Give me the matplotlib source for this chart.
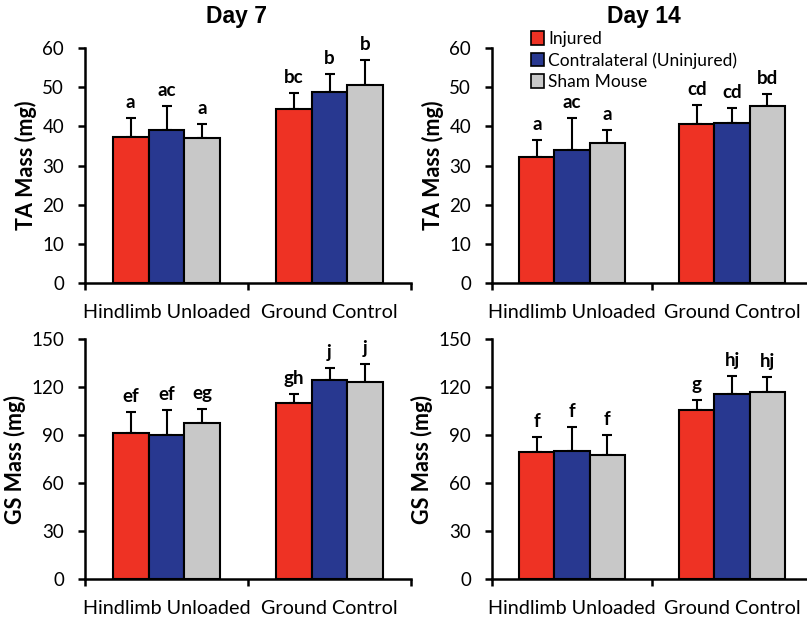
import matplotlib
matplotlib.use("Agg")
import matplotlib.pyplot as plt
import numpy as np
from matplotlib.patches import Patch

plt.rcParams['font.family'] = ['Lato', 'DejaVu Sans']

groups = ["Hindlimb Unloaded", "Ground Control"]
series = ["Injured", "Contralateral (Uninjured)", "Sham Mouse"]
colors = ["#EE3224", "#283890", "#C8C8C8"]

# Day 7 TA
ta7_mean = [[37.3, 44.3], [39.0, 48.7], [37.0, 50.6]]
ta7_err = [[4.9, 4.3], [6.1, 4.6], [3.5, 6.3]]
ta7_lab = [["a", "bc"], ["ac", "b"], ["a", "b"]]
# Day 14 TA
ta14_mean = [[32.2, 40.7], [33.9, 40.9], [35.7, 45.1]]
ta14_err = [[4.2, 4.7], [8.3, 3.9], [3.3, 3.2]]
ta14_lab = [["a", "cd"], ["ac", "cd"], ["a", "bd"]]
# Day 7 GS
gs7_mean = [[91.3, 109.8], [89.8, 124.4], [97.5, 122.9]]
gs7_err = [[13.1, 6.0], [16.0, 7.5], [9.0, 11.7]]
gs7_lab = [["ef", "gh"], ["ef", "j"], ["eg", "j"]]
# Day 14 GS
gs14_mean = [[79.2, 105.4], [79.8, 115.6], [77.7, 117.1]]
gs14_err = [[9.3, 6.7], [15.2, 11.5], [12.3, 9.4]]
gs14_lab = [["f", "g"], ["f", "hj"], ["f", "hj"]]

W, H = 807, 623
fig = plt.figure(figsize=(W / 100, H / 100), dpi=100)

def ax_at(x0, x1, ytop, ybot):
    return fig.add_axes([x0 / W, 1 - ybot / H, (x1 - x0) / W, (ybot - ytop) / H])

panels = [
    (ax_at(85, 411, 48, 283), ta7_mean, ta7_err, ta7_lab, 60, 10, "TA Mass (mg)"),
    (ax_at(492, 812, 48, 283), ta14_mean, ta14_err, ta14_lab, 60, 10, "TA Mass (mg)"),
    (ax_at(85, 411, 339, 579), gs7_mean, gs7_err, gs7_lab, 150, 30, "GS Mass (mg)"),
    (ax_at(492, 812, 339, 579), gs14_mean, gs14_err, gs14_lab, 150, 30, "GS Mass (mg)"),
]

bw = 0.22
x = np.arange(len(groups)) + 0.5
for ax, mean, err, lab, ymax, step, ylab in panels:
    for i in range(3):
        xs = x + (i - 1) * bw
        ax.bar(xs, mean[i], width=bw, color=colors[i], edgecolor="black", linewidth=1.5, zorder=2)
        ax.errorbar(xs, mean[i], yerr=[np.zeros(2), err[i]], fmt="none", ecolor="black",
                    elinewidth=1.5, capsize=3.5, capthick=1.5, zorder=1)
        for j in range(2):
            ax.annotate(lab[i][j], (xs[j], mean[i][j] + err[i][j]), xytext=(0, 5),
                        textcoords="offset points", ha="center", va="bottom",
                        fontsize=13.5, fontweight="bold")
    ax.set_xlim(0, 2)
    ax.set_ylim(0, ymax)
    ax.set_yticks(np.arange(0, ymax + 1, step))
    ax.set_xticks([0, 1, 2])
    ax.set_xticklabels([])
    ax.set_xticks(x, minor=True)
    ax.set_xticklabels(groups, minor=True)
    ax.tick_params(axis="x", which="minor", length=0, pad=15, labelsize=14.2)
    ax.tick_params(axis="x", which="major", direction="out", length=5, width=1.8)
    ax.tick_params(axis="y", direction="out", length=5, width=1.8, labelsize=13.5, pad=10)
    for s in ["top", "right"]:
        ax.spines[s].set_visible(False)
    for s in ["left", "bottom"]:
        ax.spines[s].set_linewidth(1.8)
    ax.set_ylabel(ylab, fontsize=15.5, fontweight="bold", labelpad=4)

for tx, title in [(237, "Day 7"), (644, "Day 14")]:
    fig.text(tx / W, 1 - 17 / H, title, ha="center", va="center", fontsize=16.5,
             fontweight="bold", family=["Liberation Sans", "DejaVu Sans"])

handles = [Patch(facecolor=c, edgecolor="black", linewidth=1.2) for c in colors]
fig.legend(handles, series, loc="upper left", bbox_to_anchor=(531 / W, 1 - 31 / H),
           frameon=False, fontsize=12.5, handlelength=0.75, handleheight=0.8,
           handletextpad=0.25, labelspacing=0.3, borderaxespad=0, borderpad=0)

fig.savefig("out.png", dpi=100)
